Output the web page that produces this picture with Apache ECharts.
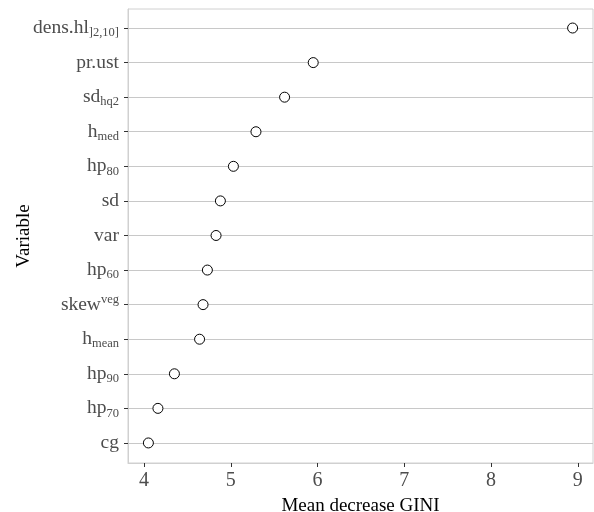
<!DOCTYPE html>
<html>
<head>
<meta charset="utf-8">
<script src="https://cdn.jsdelivr.net/npm/echarts@6/dist/echarts.min.js"></script>
<style>
  html, body { margin: 0; padding: 0; background: #fff; }
  #chart { width: 594px; height: 512px; }
</style>
</head>
<body>
<div id="chart"></div>
<script>
// variables, top to bottom
const categories = ['dens.hl', 'pr.ust', 'sd_hq2', 'h_med', 'hp80', 'sd', 'var', 'hp60', 'skew_veg', 'h_mean', 'hp90', 'hp70', 'cg']
// rich-text tick labels (sub/superscripts)
const tickLabels = [
  '{b|dens.hl}{sub|]2,10]}',
  '{b|pr.ust}',
  '{b|sd}{sub|hq2}',
  '{b|h}{sub|med}',
  '{b|hp}{sub|80}',
  '{b|sd}',
  '{b|var}',
  '{b|hp}{sub|60}',
  '{b|skew}{sup|veg}',
  '{b|h}{sub|mean}',
  '{b|hp}{sub|90}',
  '{b|hp}{sub|70}',
  '{b|cg}'
]
const giniValues = [8.94, 5.95, 5.62, 5.29, 5.03, 4.88, 4.83, 4.73, 4.68, 4.64, 4.35, 4.16, 4.05]
const xTicks = [4, 5, 6, 7, 8, 9]

const font = 'Liberation Serif'
const rowIdx = categories.map((c, i) => i)
const chart = echarts.init(document.getElementById('chart'))

const option = {
  animation: false,
  grid: {
    left: 128,
    right: 1,
    top: 9,
    bottom: 49,
    containLabel: false,
    outerBoundsMode: 'none',
    show: true,
    borderColor: '#d0d0d0',
    borderWidth: 1
  },
  xAxis: {
    type: 'value',
    min: 3.815,
    max: 9.175,
    name: 'Mean decrease GINI',
    nameLocation: 'middle',
    nameMoveOverlap: false,
    nameGap: 34,
    nameTextStyle: { fontFamily: font, fontSize: 19, color: '#000' },
    axisLine: { show: true, onZero: false, lineStyle: { color: '#d0d0d0' } },
    splitLine: { show: false },
    axisTick: { show: true, length: 4, lineStyle: { color: '#333' }, customValues: xTicks },
    axisLabel: {
      fontFamily: font,
      fontSize: 20,
      color: '#4d4d4d',
      margin: 8,
      customValues: xTicks,
      formatter: v => String(v)
    }
  },
  yAxis: {
    type: 'value',
    inverse: true,
    min: -0.55,
    max: 12.58,
    name: 'Variable',
    nameLocation: 'middle',
    nameMoveOverlap: false,
    nameRotate: 90,
    nameGap: 94,
    nameTextStyle: { fontFamily: font, fontSize: 19, color: '#000' },
    axisLine: { show: true, onZero: false, lineStyle: { color: '#d0d0d0' } },
    splitLine: { show: false },
    axisTick: { show: true, length: 4, lineStyle: { color: '#333' }, customValues: rowIdx },
    axisLabel: {
      margin: 9,
      customValues: rowIdx,
      formatter: v => tickLabels[Math.round(v)],
      rich: {
        b: { fontFamily: font, fontSize: 19.5, color: '#4d4d4d' },
        sub: { fontFamily: font, fontSize: 12.5, color: '#4d4d4d', padding: [10, 0, 0, 0] },
        sup: { fontFamily: font, fontSize: 12.5, color: '#4d4d4d', padding: [0, 0, 10, 0] }
      }
    }
  },
  series: [
    {
      // horizontal guide lines at each variable
      type: 'scatter',
      data: [],
      silent: true,
      z: 1,
      markLine: {
        silent: true,
        symbol: 'none',
        label: { show: false },
        lineStyle: { color: '#c8c8c8', width: 1, type: 'solid' },
        data: rowIdx.map(i => ({ yAxis: i }))
      }
    },
    {
      type: 'scatter',
      data: giniValues.map((v, i) => [v, i]),
      symbol: 'circle',
      symbolSize: 10,
      itemStyle: { color: '#fff', borderColor: '#000', borderWidth: 1, opacity: 1 },
      z: 5
    }
  ]
}

chart.setOption(option)
</script>
</body>
</html>
